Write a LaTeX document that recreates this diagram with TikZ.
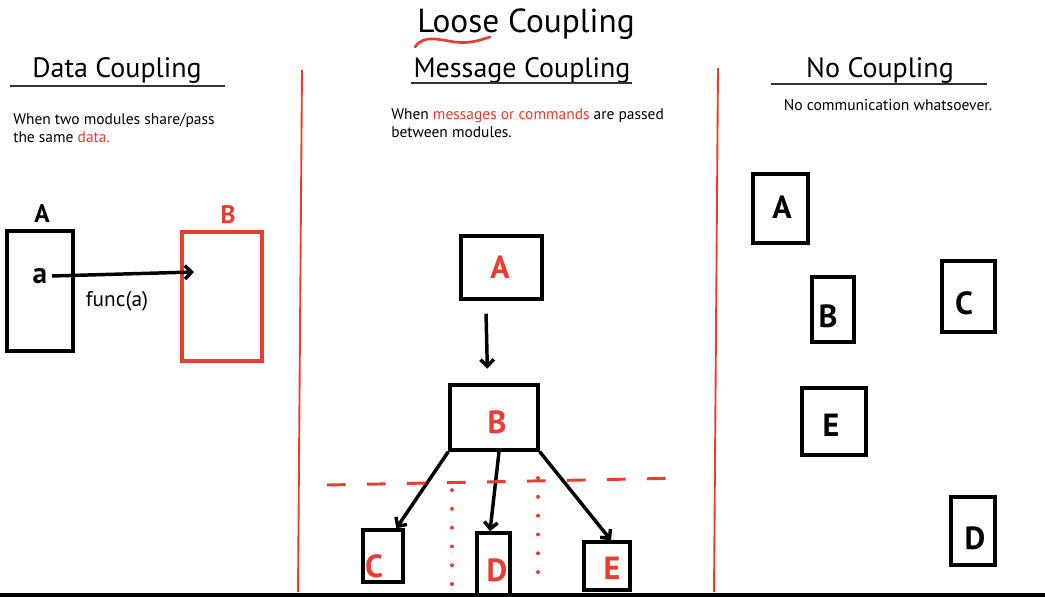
\documentclass[tikz,border=0pt]{standalone}
\usepackage{fontspec}
\setmainfont{PT Sans}
\usetikzlibrary{arrows.meta,fit}
\definecolor{ured}{RGB}{234,60,48}
\begin{document}
\begin{tikzpicture}[x=0.75pt,y=-0.75pt,
  box/.style={draw=black, line width=2.6pt, inner sep=0pt},
  rbox/.style={box, draw=ured},
  letter/.style={font=\bfseries\fontsize{24}{24}\selectfont, inner sep=0pt},
  rletter/.style={letter, text=ured},
  conn/.style={line width=2.6pt, -{Straight Barb[length=5pt,width=10pt]}},
  head/.style={font=\fontsize{21}{21}\selectfont},
  body/.style={font=\fontsize{11.6}{13.5}\selectfont, align=left, anchor=north west, inner sep=0pt},
  rule/.style={line width=0.9pt, black!80},
  divider/.style={line width=1.4pt, ured},
  sep/.style={ured, line width=2.2pt, dash pattern=on 14pt off 16pt},
  dots/.style={ured, line width=2.8pt, line cap=round, dash pattern=on 0.1pt off 14pt},
]
\useasboundingbox (0,0) rectangle (1045,596);
\fill[white] (0,0) rectangle (1045,596);

% title
\node[font=\fontsize{25}{25}\selectfont] (title) at (526,24) {Loose Coupling};
\draw[ured, line width=2pt, line cap=round] (415,47) .. controls (424,34) and (440,40) .. (455,42) .. controls (470,44) and (480,40) .. (490,37);

% dividers
\draw[divider] (302,70) -- (298,592);
\draw[divider] (718,68) -- (714,592);
\draw[line width=3pt] (0,594.5) -- (1045,594.5);

% ---------------- Data Coupling
\node[head] (h1) at (117,70) {Data Coupling};
\draw[rule] (10,86) -- (225,86);
\node[body] (t1) at (13,113) {When two modules share/pass\\the same \textcolor{ured}{data.}};

\node[box, fit={(7,231) (73,351)}] (LA) {};
\node[font=\bfseries\fontsize{19}{19}\selectfont] (LAl) at (42,214) {A};
\node[rbox, fit={(182,232) (262,361)}] (LB) {};
\node[font=\bfseries\fontsize{19}{19}\selectfont, text=ured] (LBl) at (228,215) {B};
\node[font=\bfseries\fontsize{22}{22}\selectfont] (La) at (40,276) {a};
\coordinate (Lend) at (194,272);
\draw[conn] (La.east) -- (Lend);
\node[font=\fontsize{16}{16}\selectfont] (func) at (117,301) {func(a)};

% ---------------- Message Coupling
\node[head] (h2) at (522,70) {Message Coupling};
\draw[rule] (411,83) -- (632,83);
\node[body] (t2) at (391,108) {When \textcolor{ured}{messages or commands} are passed\\between modules.};

\node[box, fit={(461,236) (542,299)}] (MA) {};
\node[box, fit={(450,385) (538,450)}] (MB) {};
\node[box, fit={(363,530) (403,582)}] (MC) {};
\node[box, fit={(477,533) (510,610)}] (MD) {};
\node[box, fit={(584,542) (630,590)}] (ME) {};
\node[rletter] (MAl) at (500,267) {A};
\node[rletter] (MBl) at (497,422) {B};
\node[rletter] (MCl) at (374,566) {C};
\node[rletter] (MDl) at (497,570) {D};
\node[rletter] (MEl) at (612,568) {E};

\draw[conn] ([xshift=-11.6pt,yshift=-9.75pt]MA.south) -- ([xshift=-5pt,yshift=11pt]MB.north);
\draw[conn] (MB.south west) -- ([xshift=10pt]MC.north);
\draw[conn] (MB.south -| 499,0) -- (MD.north -| 490,0);
\draw[conn] (MB.south east) -- ([xshift=3pt]ME.north);

\draw[sep] (327,485) -- (685,478);
\draw[dots] (452,490) -- (452,592);
\draw[dots] (538,478) -- (538,585);

% ---------------- No Coupling
\node[head] (h3) at (880,70) {No Coupling};
\draw[rule] (771,84) -- (987,84);
\node[font=\fontsize{11.7}{13}\selectfont] (t3) at (888,105) {No communication whatsoever.};

\node[box, fit={(753,174) (808,243)}] (NA) {};
\node[box, fit={(812,277) (854,342)}] (NB) {};
\node[box, fit={(942,261) (995,332)}] (NC) {};
\node[box, fit={(802,388) (866,455)}] (NE) {};
\node[box, fit={(951,497) (995,565)}] (ND) {};
\node[letter] (NAl) at (782,207) {A};
\node[letter] (NBl) at (828,316) {B};
\node[letter] (NCl) at (964,303) {C};
\node[letter] (NEl) at (831,425) {E};
\node[letter] (NDl) at (975,538) {D};
\end{tikzpicture}
\end{document}
